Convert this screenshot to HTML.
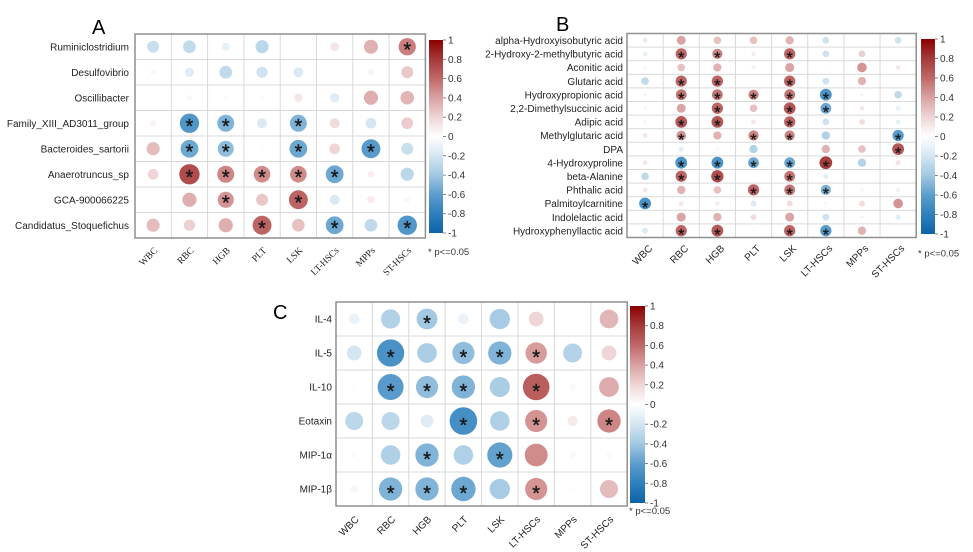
<!DOCTYPE html>
<html><head><meta charset="utf-8">
<style>
html,body{margin:0;padding:0;background:#fff;}
svg{display:block;}
.lab{font-family:"Liberation Sans",Arial,sans-serif;font-size:10px;fill:#222;}
.ser{font-family:"Liberation Serif","Times New Roman",serif;font-size:9.5px;fill:#222;}
.big{font-family:"Liberation Sans",Arial,sans-serif;font-size:20px;fill:#000;}
.cb{font-family:"Liberation Sans",Arial,sans-serif;font-size:10px;fill:#333;}
</style></head>
<body>
<svg id="s" width="973" height="552" viewBox="0 0 973 552" xmlns="http://www.w3.org/2000/svg">
<defs>
<linearGradient id="cg" x1="0" y1="0" x2="0" y2="1">
<stop offset="0" stop-color="#8b0000"/>
<stop offset="0.1" stop-color="#a53a3a"/>
<stop offset="0.2" stop-color="#c06868"/>
<stop offset="0.3" stop-color="#daa2a2"/>
<stop offset="0.4" stop-color="#efd5d5"/>
<stop offset="0.5" stop-color="#ffffff"/>
<stop offset="0.6" stop-color="#d4e6f2"/>
<stop offset="0.7" stop-color="#a2c8e2"/>
<stop offset="0.8" stop-color="#5c9dcc"/>
<stop offset="0.9" stop-color="#2f80bd"/>
<stop offset="1" stop-color="#0b63a8"/>
</linearGradient>
</defs>
<rect width="973" height="552" fill="#fff"/>
<g id="grids"></g>
<g id="dots"></g>

<text class="big" x="92" y="34">A</text>
<text class="big" x="556" y="31">B</text>
<text class="big" x="273" y="319">C</text>

<g class="lab" text-anchor="end">
<text x="129" y="50.5">Ruminiclostridium</text>
<text x="129" y="76">Desulfovibrio</text>
<text x="129" y="101.5">Oscillibacter</text>
<text x="129" y="127">Family_XIII_AD3011_group</text>
<text x="129" y="152.5">Bacteroides_sartorii</text>
<text x="129" y="178">Anaerotruncus_sp</text>
<text x="129" y="203.5">GCA-900066225</text>
<text x="129" y="229">Candidatus_Stoquefichus</text>
</g>
<g class="ser" text-anchor="end">
<text transform="translate(158,251) rotate(-45)">WBC</text>
<text transform="translate(194.4,251) rotate(-45)">RBC</text>
<text transform="translate(230.6,251) rotate(-45)">HGB</text>
<text transform="translate(266.9,251) rotate(-45)">PLT</text>
<text transform="translate(303.1,251) rotate(-45)">LSK</text>
<text transform="translate(339.4,251) rotate(-45)">LT-HSCs</text>
<text transform="translate(375.6,251) rotate(-45)">MPPs</text>
<text transform="translate(411.9,251) rotate(-45)">ST-HSCs</text>
</g>

<g class="lab" text-anchor="end">
<text x="623" y="44">alpha-Hydroxyisobutyric acid</text>
<text x="623" y="57.6">2-Hydroxy-2-methylbutyric acid</text>
<text x="623" y="71.2">Aconitic acid</text>
<text x="623" y="84.8">Glutaric acid</text>
<text x="623" y="98.4">Hydroxypropionic acid</text>
<text x="623" y="112">2,2-Dimethylsuccinic acid</text>
<text x="623" y="125.6">Adipic acid</text>
<text x="623" y="139.2">Methylglutaric acid</text>
<text x="623" y="152.8">DPA</text>
<text x="623" y="166.4">4-Hydroxyproline</text>
<text x="623" y="180">beta-Alanine</text>
<text x="623" y="193.6">Phthalic acid</text>
<text x="623" y="207.2">Palmitoylcarnitine</text>
<text x="623" y="220.8">Indolelactic acid</text>
<text x="623" y="234.4">Hydroxyphenyllactic acid</text>
</g>
<g class="lab" text-anchor="end">
<text transform="translate(653,249) rotate(-45)">WBC</text>
<text transform="translate(689,249) rotate(-45)">RBC</text>
<text transform="translate(725,249) rotate(-45)">HGB</text>
<text transform="translate(761,249) rotate(-45)">PLT</text>
<text transform="translate(797,249) rotate(-45)">LSK</text>
<text transform="translate(833,249) rotate(-45)">LT-HSCs</text>
<text transform="translate(869,249) rotate(-45)">MPPs</text>
<text transform="translate(905,249) rotate(-45)">ST-HSCs</text>
</g>

<g class="lab" text-anchor="end">
<text x="332" y="322.5">IL-4</text>
<text x="332" y="356.5">IL-5</text>
<text x="332" y="390.5">IL-10</text>
<text x="332" y="424.5">Eotaxin</text>
<text x="332" y="458.5">MIP-1α</text>
<text x="332" y="492.5">MIP-1β</text>
</g>
<g class="lab" text-anchor="end">
<text transform="translate(359.5,520) rotate(-45)">WBC</text>
<text transform="translate(396,520) rotate(-45)">RBC</text>
<text transform="translate(432,520) rotate(-45)">HGB</text>
<text transform="translate(468.5,520) rotate(-45)">PLT</text>
<text transform="translate(505,520) rotate(-45)">LSK</text>
<text transform="translate(541,520) rotate(-45)">LT-HSCs</text>
<text transform="translate(577.5,520) rotate(-45)">MPPs</text>
<text transform="translate(614,520) rotate(-45)">ST-HSCs</text>
</g>

<rect x="429" y="40" width="14" height="193" fill="url(#cg)"/>
<rect x="921" y="39" width="14" height="195" fill="url(#cg)"/>
<rect x="630" y="306" width="15" height="197" fill="url(#cg)"/>
<g id="cbt"></g>
<g class="cb">
<text x="448" y="43.5">1</text><text x="448" y="62.8">0.8</text><text x="448" y="82.1">0.6</text><text x="448" y="101.4">0.4</text><text x="448" y="120.7">0.2</text><text x="448" y="140">0</text><text x="448" y="159.3">-0.2</text><text x="448" y="178.6">-0.4</text><text x="448" y="197.9">-0.6</text><text x="448" y="217.2">-0.8</text><text x="448" y="236.5">-1</text>
<text x="940" y="42.5">1</text><text x="940" y="62">0.8</text><text x="940" y="81.5">0.6</text><text x="940" y="101">0.4</text><text x="940" y="120.5">0.2</text><text x="940" y="140">0</text><text x="940" y="159.5">-0.2</text><text x="940" y="179">-0.4</text><text x="940" y="198.5">-0.6</text><text x="940" y="218">-0.8</text><text x="940" y="237.5">-1</text>
<text x="650" y="309.5">1</text><text x="650" y="329.2">0.8</text><text x="650" y="348.9">0.6</text><text x="650" y="368.6">0.4</text><text x="650" y="388.3">0.2</text><text x="650" y="408">0</text><text x="650" y="427.7">-0.2</text><text x="650" y="447.4">-0.4</text><text x="650" y="467.1">-0.6</text><text x="650" y="486.8">-0.8</text><text x="650" y="506.5">-1</text>
</g>
<g class="cb" style="font-size:9.5px">
<text x="428" y="255">* p&lt;=0.05</text>
<text x="918" y="256.5">* p&lt;=0.05</text>
<text x="629" y="514">* p&lt;=0.05</text>
</g>
</svg>
<script>
(function(){
var NS="http://www.w3.org/2000/svg";
var grids=document.getElementById('grids'), dots=document.getElementById('dots'), cbt=document.getElementById('cbt');
function el(p,t,a){var e=document.createElementNS(NS,t);for(var k in a)e.setAttribute(k,a[k]);p.appendChild(e);return e;}
var R=[[0,[255,255,255]],[0.2,[239,213,213]],[0.4,[218,162,162]],[0.6,[192,104,104]],[0.8,[165,58,58]],[1,[139,0,0]]];
var B=[[0,[255,255,255]],[0.2,[212,230,242]],[0.4,[162,200,226]],[0.6,[92,157,204]],[0.8,[47,128,189]],[1,[11,99,168]]];
function col(v){var s=v>=0?R:B,a=Math.min(1,Math.abs(v));
for(var i=1;i<s.length;i++){if(a<=s[i][0]){var t=(a-s[i-1][0])/(s[i][0]-s[i-1][0]);var c=s[i-1][1].map(function(x,j){return Math.round(x+(s[i][1][j]-x)*t);});return 'rgb('+c.join(',')+')';}}
return 'rgb('+s[s.length-1][1].join(',')+')';}
function panel(x0,y0,cw,rh,Rm,fs,dy,data,k){
k=k||1;
var nr=data.length,nc=8,W=cw*nc,H=rh*nr;
for(var i=1;i<nc;i++)el(grids,'line',{x1:x0+i*cw,y1:y0,x2:x0+i*cw,y2:y0+H,stroke:'#d9d9d9','stroke-width':1});
for(var j=1;j<nr;j++)el(grids,'line',{x1:x0,y1:y0+j*rh,x2:x0+W,y2:y0+j*rh,stroke:'#d9d9d9','stroke-width':1});
el(grids,'rect',{x:x0,y:y0,width:W,height:H,fill:'none',stroke:'#8f8f8f','stroke-width':1.5});
for(var r=0;r<nr;r++){var row=data[r].split(/\s+/);
for(var c=0;c<nc;c++){var s=row[c],sig=s.indexOf('*')>=0,v=parseFloat(s)*k;
if(v>1)v=1;if(v<-1)v=-1;
var cx=x0+(c+0.5)*cw,cy=y0+(r+0.5)*rh;
if(Math.abs(v)>0.001)el(dots,'circle',{cx:cx,cy:cy,r:Rm*Math.sqrt(Math.abs(v)),fill:col(v)});
if(sig){var t=el(dots,'text',{x:cx,y:cy+dy,'text-anchor':'middle','font-family':'Liberation Sans, Arial, sans-serif','font-size':fs,fill:'#1a1a1a',stroke:'#1a1a1a','stroke-width':0.4});t.textContent='*';}
}}}
panel(135,34,36.3,25.5,12,20,9.6,[
"-0.25 -0.28 -0.11 -0.3 0.01 0.13 0.34 0.52*",
"-0.05 -0.15 -0.28 -0.22 -0.17 0.01 0.06 0.25",
"0 0.05 -0.03 0.03 0.12 -0.15 0.35 0.32",
"0.06 -0.65* -0.5* -0.17 -0.5* 0.17 -0.2 0.24",
"0.3 -0.55* -0.45* 0.02 -0.55* 0.2 -0.62* -0.25",
"0.2 0.72* 0.5* 0.48* 0.48* -0.55* 0.08 -0.3",
"0.01 0.35 0.45* 0.25 0.62* -0.17 0.1 -0.05",
"0.3 0.22 0.35 0.62* 0.28 -0.55* -0.28 -0.65*"]);
panel(627,33.5,36.15,13.6,7.2,16,9.3,[
"0.1 0.35 0.25 0.25 0.3 -0.2 0.02 -0.2",
"-0.1 0.55* 0.45* 0.08 0.55* -0.2 0.2 0",
"-0.05 0.25 0.3 -0.08 0.35 -0.03 0.4 0.1",
"-0.25 0.55* 0.55* -0.02 0.55* -0.2 0.3 -0.02",
"0.05 0.5* 0.5* 0.45* 0.5* -0.6* 0.05 -0.25",
"0.05 0.35 0.55* 0.25 0.6* -0.5* 0.1 -0.1",
"-0.05 0.6* 0.6* 0.1 0.55* -0.2 0.15 -0.1",
"0.1 0.4* 0.3 0.45* 0.45* -0.3 0 -0.55*",
"-0.02 -0.12 -0.05 -0.3 0.02 0.3 0.25 0.6*",
"0.1 -0.6* -0.6* -0.5* -0.5* 0.7* -0.3 0.12",
"-0.25 0.55* 0.65* 0.03 0.5* -0.12 0.01 -0.02",
"0.1 0.3 0.25 0.55* 0.5* -0.45* 0.05 -0.08",
"-0.6* 0.1 0.08 -0.15 0.15 0.05 0.15 0.4",
"0 0.35 0.3 0.15 0.35 -0.2 0.05 -0.12",
"-0.15 0.55* 0.6* 0.03 0.55* -0.55* 0.3 0.01"],1.12);
panel(336,302,36.4,34,16.5,20,11.2,[
"-0.1 -0.34 -0.4* -0.1 -0.38 0.2 0.01 0.32",
"-0.2 -0.68* -0.36 -0.45* -0.5* 0.42* -0.33 0.2",
"0.02 -0.62* -0.45* -0.5* -0.37 0.65* -0.04 0.36",
"-0.3 -0.3 -0.15 -0.7* -0.35 0.45* 0.1 0.5*",
"0.03 -0.35 -0.5* -0.35 -0.58* 0.48 -0.04 0.03",
"0.05 -0.5* -0.5* -0.55* -0.38 0.45* 0.02 0.3"]);
function ticks(x,y0,y1){for(var i=0;i<=10;i++){var y=y0+(y1-y0)*i/10;el(cbt,'line',{x1:x,y1:y,x2:x+3,y2:y,stroke:'#666','stroke-width':0.8});}}
ticks(443,40,233);ticks(935,39,234);ticks(645,306,503);
})();
</script>
</body></html>
